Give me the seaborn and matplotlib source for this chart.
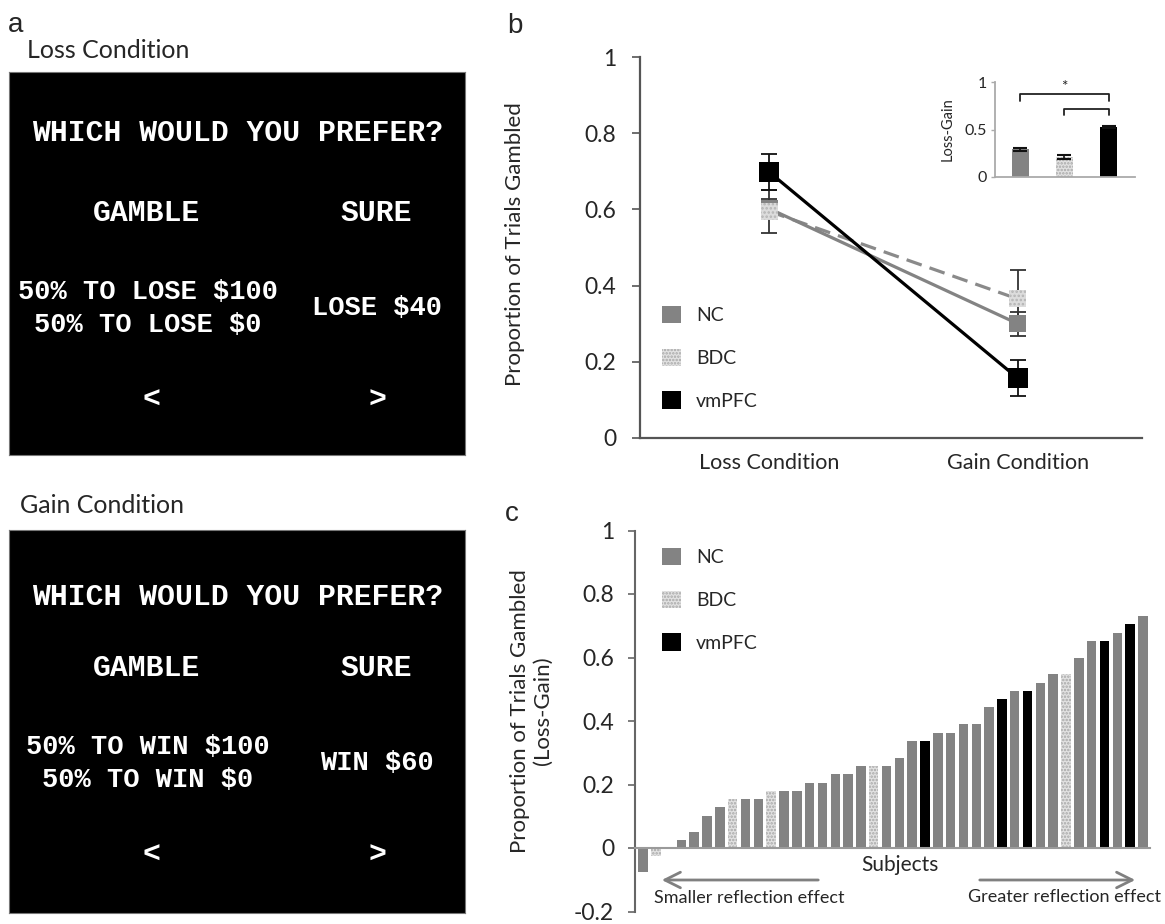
import matplotlib
matplotlib.use("Agg")
import matplotlib.pyplot as plt
import matplotlib.colors as mcolors
import seaborn as sns
import pandas as pd
import numpy as np
from matplotlib.patches import Patch

# values
groups = ["NC", "BDC", "vmPFC"]
conditions = ["Loss Condition", "Gain Condition"]

# panel b: proportion of trials gambled, mean and SE per group
loss_mean = [0.602, 0.595, 0.698]
gain_mean = [0.300, 0.365, 0.157]
loss_err = [0.025, 0.057, 0.047]
gain_err = [0.032, 0.077, 0.047]

# inset: loss minus gain
inset_mean = [0.29, 0.21, 0.525]
inset_err = [0.012, 0.025, 0.008]

# panel c: loss minus gain per subject (sorted)
subject_values = [-0.075, -0.025, 0.0, 0.024, 0.05, 0.102, 0.128, 0.155, 0.155, 0.155,
                  0.18, 0.18, 0.18, 0.206, 0.206, 0.232, 0.232, 0.258, 0.258, 0.258,
                  0.284, 0.338, 0.338, 0.363, 0.363, 0.39, 0.39, 0.443, 0.469, 0.496,
                  0.496, 0.52, 0.547, 0.547, 0.60, 0.652, 0.652, 0.678, 0.705, 0.732]
subject_groups = ["NC", "BDC", "NC", "NC", "NC", "NC", "NC", "BDC", "NC", "NC",
                  "BDC", "NC", "NC", "NC", "NC", "NC", "NC", "NC", "BDC", "NC",
                  "NC", "NC", "vmPFC", "NC", "NC", "NC", "NC", "NC", "vmPFC", "NC",
                  "vmPFC", "NC", "NC", "BDC", "NC", "NC", "vmPFC", "NC", "vmPFC", "NC"]

nc_color = "#838383"
bdc_face = "#e2e2e2"
bdc_dots = "#a8a8a8"
bdc_line = "#8a8a8a"
vm_color = "#000000"

sns.set_theme(style="white")
plt.rcParams["font.family"] = ["Lato", "DejaVu Sans"]
plt.rcParams["hatch.linewidth"] = 1.2

W, H = 1165, 924
fig = plt.figure(figsize=(W / 100, H / 100), dpi=100)


def rect(l, t, r, b):
    # pixel box -> figure fraction
    return [l / W, 1 - b / H, (r - l) / W, (b - t) / H]


def ftext(x, y, s, **kw):
    return fig.text(x / W, 1 - y / H, s, **kw)


def legend_at(ax, x, y):
    handles = [Patch(facecolor=nc_color, edgecolor="none"),
               Patch(facecolor=bdc_face, edgecolor=bdc_dots, hatch=".....", lw=0),
               Patch(facecolor=vm_color, edgecolor="none")]
    ax.legend(handles, groups, loc="upper left", bbox_to_anchor=(x / W, 1 - y / H),
              bbox_transform=fig.transFigure, frameon=False, fontsize=14,
              handlelength=1.0, handleheight=1.0, handletextpad=0.75,
              labelspacing=1.25, borderpad=0, borderaxespad=0)


# ---------------- panel a: task screens ----------------
mono = dict(family="Liberation Mono", weight="bold", color="white",
            ha="center", va="center", parse_math=False)

ftext(8, 32, "a", family="Liberation Sans", fontsize=20, va="baseline")
ftext(27, 58, "Loss Condition", fontsize=18, va="baseline")
ftext(20, 513, "Gain Condition", fontsize=18, va="baseline")

# (box top, box bottom, y of each text row, gamble lines, sure amount)
screens = [
    (72, 455, [133, 213, 292, 325, 308, 400],
     "50% TO LOSE $100", "50% TO LOSE $0", "LOSE $40"),
    (530, 913, [597, 668, 747, 780, 763, 855],
     "50% TO WIN $100", "50% TO WIN $0", "WIN $60"),
]
for top, bottom, ys, g1, g2, sure in screens:
    axa = fig.add_axes(rect(9, top, 465, bottom))
    axa.set_facecolor("black")
    axa.set_xticks([])
    axa.set_yticks([])
    for s in axa.spines.values():
        s.set_color("#777777")
        s.set_linewidth(0.8)
    ftext(238, ys[0], "WHICH WOULD YOU PREFER?", fontsize=21.4, **mono)
    ftext(147, ys[1], "GAMBLE", fontsize=21.4, **mono)
    ftext(376, ys[1], "SURE", fontsize=21.4, **mono)
    ftext(148, ys[2], g1, fontsize=19.5, **mono)
    ftext(148, ys[3], g2, fontsize=19.5, **mono)
    ftext(377, ys[4], sure, fontsize=19.5, **mono)
    ftext(151, ys[5], "<", fontsize=21.4, **mono)
    ftext(377, ys[5], ">", fontsize=21.4, **mono)

# ---------------- panel b: line plot ----------------
ftext(507, 33, "b", family="Liberation Sans", fontsize=20, va="baseline")
axb = fig.add_axes(rect(640, 57, 1142, 438))

df_b = pd.DataFrame({
    "condition": conditions * 3,
    "group": [g for g in groups for _ in conditions],
    "value": [v for pair in zip(loss_mean, gain_mean) for v in pair],
    "err": [v for pair in zip(loss_err, gain_err) for v in pair],
})

sns.lineplot(data=df_b, x="condition", y="value", hue="group", style="group",
             hue_order=["BDC", "NC", "vmPFC"],
             palette={"NC": nc_color, "BDC": bdc_line, "vmPFC": vm_color},
             dashes={"NC": "", "BDC": (5, 2.6), "vmPFC": ""},
             linewidth=2.3, sort=False, errorbar=None, legend=False, ax=axb)
for g, sub in df_b.groupby("group"):
    axb.errorbar(sub["condition"], sub["value"], yerr=sub["err"], fmt="none",
                 ecolor="#111111" if g == "vmPFC" else "#333333",
                 elinewidth=1.3, capsize=6, capthick=1.3, zorder=3)
sns.scatterplot(data=df_b, x="condition", y="value", hue="group", size="group",
                hue_order=["BDC", "NC", "vmPFC"],
                palette={"NC": nc_color, "BDC": "#dcdcdc", "vmPFC": vm_color},
                sizes={"NC": 150, "BDC": 150, "vmPFC": 210},
                marker="s", linewidth=0, legend=False, zorder=4, ax=axb)
# dotted texture on the BDC markers
bdc_rows = df_b[df_b["group"] == "BDC"]
axb.scatter(bdc_rows["condition"], bdc_rows["value"], s=150, marker="s",
            facecolor="none", edgecolor="#b4b4b4", hatch="....", linewidth=0,
            zorder=5)

axb.set_xlim(-0.52, 1.5)
axb.set_ylim(0, 1)
axb.set_yticks([0, 0.2, 0.4, 0.6, 0.8, 1.0])
axb.yaxis.set_major_formatter(plt.FuncFormatter(lambda v, p: f"{v:g}"))
axb.tick_params(axis="y", left=True, length=6, width=1.2, color="#555555",
                labelsize=16.5, pad=11)
axb.tick_params(axis="x", length=0, labelsize=15.5, pad=11)
axb.set_xlabel("")
axb.set_ylabel("Proportion of Trials Gambled", fontsize=16)
axb.yaxis.set_label_coords(-0.229, 0.51)
for side in ["top", "right"]:
    axb.spines[side].set_visible(False)
for side in ["left", "bottom"]:
    axb.spines[side].set_color("#555555")
    axb.spines[side].set_linewidth(1.6)
legend_at(axb, 662, 306)

# inset: loss - gain per group
axi = fig.add_axes(rect(995, 82, 1135, 177))
df_i = pd.DataFrame({"group": groups, "value": inset_mean, "err": inset_err})
sns.barplot(data=df_i, x="group", y="value", hue="group", order=groups,
            palette={"NC": nc_color, "BDC": bdc_face, "vmPFC": vm_color},
            width=0.39, linewidth=0, legend=False, ax=axi)
for p in axi.patches:
    if np.allclose(p.get_facecolor()[:3], mcolors.to_rgb(bdc_face)):
        p.set_hatch(".....")
        p.set_edgecolor(bdc_dots)
axi.errorbar(df_i["group"], df_i["value"], yerr=df_i["err"], fmt="none",
             ecolor="#111111", elinewidth=1.2, capsize=5, capthick=1.5)
# significance brackets
axi.plot([0, 0, 2, 2], [0.80, 0.87, 0.87, 0.80], color="#222222", lw=1.3)
axi.plot([1, 1, 2, 2], [0.65, 0.72, 0.72, 0.65], color="#222222", lw=1.3)
axi.text(1, 0.95, "*", ha="center", va="center", fontsize=11, color="#222222")
axi.set_xlim(-0.57, 2.6)
axi.set_ylim(0, 1)
axi.set_yticks([0, 0.5, 1])
axi.yaxis.set_major_formatter(plt.FuncFormatter(lambda v, p: f"{v:g}"))
axi.set_xticks([])
axi.tick_params(axis="y", left=True, length=3, width=1, color="#aaaaaa",
                labelsize=11.5, pad=3)
axi.set_xlabel("")
axi.set_ylabel("Loss-Gain", fontsize=10.5)
axi.yaxis.set_label_coords(-0.29, 0.5)
axi.patch.set_alpha(0)
for side in ["top", "right"]:
    axi.spines[side].set_visible(False)
for side in ["left", "bottom"]:
    axi.spines[side].set_color("#aaaaaa")
    axi.spines[side].set_linewidth(1.3)

# ---------------- panel c: per-subject bars ----------------
ftext(505, 521, "c", family="Liberation Sans", fontsize=20, va="baseline")
axc = fig.add_axes(rect(635, 530.5, 1150, 911.5))
df_c = pd.DataFrame({
    "subject": [str(i + 1) for i in range(len(subject_values))],
    "value": subject_values,
    "group": subject_groups,
})
sns.barplot(data=df_c, x="subject", y="value", hue="group", hue_order=groups,
            palette={"NC": nc_color, "BDC": bdc_face, "vmPFC": vm_color},
            dodge=False, width=0.74, linewidth=0, legend=False, ax=axc)
for p in axc.patches:
    if np.allclose(p.get_facecolor()[:3], mcolors.to_rgb(bdc_face)):
        p.set_hatch(".....")
        p.set_edgecolor(bdc_dots)

axc.set_xlim(-0.62, 39.55)
axc.set_ylim(-0.2, 1)
axc.set_xticks([])
axc.set_yticks([-0.2, 0, 0.2, 0.4, 0.6, 0.8, 1.0])
axc.yaxis.set_major_formatter(plt.FuncFormatter(lambda v, p: f"{v:g}"))
axc.tick_params(axis="y", left=True, length=5, width=1.2, color="#666666",
                labelsize=16.5, pad=10)
axc.set_xlabel("")
axc.set_ylabel("Proportion of Trials Gambled\n(Loss-Gain)", fontsize=16,
               linespacing=1.15)
axc.yaxis.set_label_coords(-0.16, 0.527)
axc.spines["top"].set_visible(False)
axc.spines["right"].set_visible(False)
axc.spines["bottom"].set_position(("data", 0))
axc.spines["bottom"].set_color("#9a9a9a")
axc.spines["bottom"].set_linewidth(1.5)
axc.spines["left"].set_color("#666666")
axc.spines["left"].set_linewidth(1.5)
legend_at(axc, 662, 548)

ftext(900, 865, "Subjects", fontsize=15, ha="center", va="center")
ftext(749, 898, "Smaller reflection effect", fontsize=13, ha="center", va="center")
ftext(1064, 897, "Greater reflection effect", fontsize=13, ha="center", va="center")
arrow = dict(arrowstyle="->", color="#808080", lw=2, mutation_scale=28)
axc.annotate("", xy=(659 / W, 1 - 880 / H), xytext=(821 / W, 1 - 880 / H),
             xycoords="figure fraction", textcoords="figure fraction",
             arrowprops=arrow)
axc.annotate("", xy=(1138 / W, 1 - 880 / H), xytext=(977 / W, 1 - 880 / H),
             xycoords="figure fraction", textcoords="figure fraction",
             arrowprops=arrow)

fig.savefig("out.png", dpi=100, facecolor="white")
